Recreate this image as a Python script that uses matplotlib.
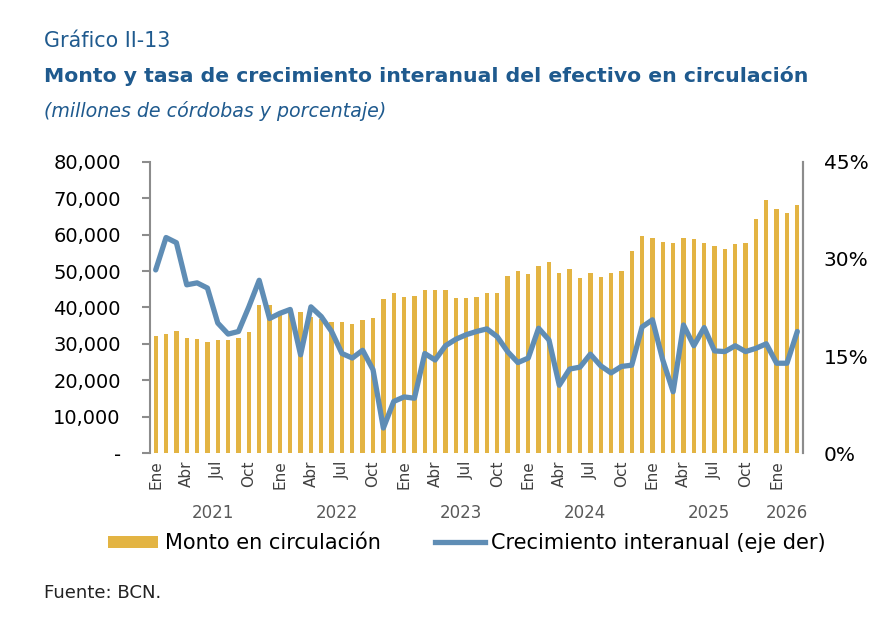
import matplotlib
matplotlib.use("Agg")
import matplotlib.pyplot as plt
import numpy as np
from matplotlib.patches import Patch
from matplotlib.lines import Line2D

months = ["Ene", "Feb", "Mar", "Abr", "May", "Jun", "Jul", "Ago", "Sep", "Oct", "Nov", "Dic"]
years = ["2021", "2022", "2023", "2024", "2025", "2026"]

# Monto en circulación (miles de millones -> millones de córdobas), Ene 2021 - Mar 2026
monto_k = [
    32.3, 32.6, 33.5, 31.7, 31.4, 30.4, 31.1, 31.1, 31.7, 33.3, 40.8, 40.8,
    38.5, 39.9, 38.7, 37.5, 36.8, 36.0, 36.0, 35.6, 36.6, 37.2, 42.3, 43.9,
    43.0, 43.2, 44.8, 44.8, 44.8, 42.7, 42.7, 43.0, 43.9, 44.1, 48.7, 50.0,
    49.1, 51.5, 52.4, 49.4, 50.5, 48.2, 49.4, 48.4, 49.4, 50.0, 55.5, 59.7,
    59.1, 58.0, 57.6, 59.1, 58.8, 57.6, 56.9, 56.0, 57.3, 57.6, 64.3, 69.5,
    67.0, 66.0, 68.0,
]
monto = [v * 1000 for v in monto_k]

# Crecimiento interanual (%)
crec = [
    28.3, 33.3, 32.5, 26.0, 26.3, 25.5, 20.1, 18.4, 18.8, 22.6, 26.7, 20.8,
    21.6, 22.2, 15.2, 22.6, 21.1, 18.8, 15.4, 14.7, 15.9, 12.9, 3.9, 8.0,
    8.7, 8.5, 15.4, 14.4, 16.6, 17.6, 18.3, 18.8, 19.2, 18.0, 15.7, 14.0,
    14.7, 19.3, 17.5, 10.5, 13.0, 13.3, 15.3, 13.5, 12.4, 13.4, 13.6, 19.5,
    20.6, 14.4, 9.5, 19.8, 16.6, 19.4, 15.8, 15.7, 16.6, 15.7, 16.2, 16.9,
    13.9, 13.9, 18.8,
]

bar_color = "#E3B443"
line_color = "#5F8DB5"
title_color = "#1F5A8E"
grey = "#8C8C8C"

W, H = 892, 624
fig = plt.figure(figsize=(W / 100, H / 100), dpi=100)
ax = fig.add_axes([150 / W, 1 - 453.3 / H, (802.7 - 150) / W, (453.3 - 161.7) / H])

n = len(monto)
x = np.arange(n)
ax.bar(x, monto, width=0.42, color=bar_color, zorder=2)
ax.set_xlim(-0.55, n - 0.48)
ax.set_ylim(0, 80000)
ax.set_yticks(np.arange(0, 80001, 10000))
ax.set_yticklabels(["-"] + [f"{v:,}" for v in range(10000, 80001, 10000)], fontsize=14,
                   family="DejaVu Sans")
ax.tick_params(axis="y", length=6, width=1.5, color=grey, pad=15)

for s in ["top", "bottom"]:
    ax.spines[s].set_visible(False)
for s in ["left", "right"]:
    ax.spines[s].set_color(grey)
    ax.spines[s].set_linewidth(1.5)

# Month ticks
tick_pos = [i for i in range(n) if i % 3 == 0]
ax.set_xticks(tick_pos)
ax.set_xticklabels([months[i % 12] for i in tick_pos], rotation=90, fontsize=11,
                   color="#404040", family="DejaVu Sans Condensed")
ax.tick_params(axis="x", length=0, pad=5)

# Year labels
for k, yr in enumerate(years):
    first = k * 12
    last = min(first + 11, n - 1)
    ax.text((first + last) / 2, -0.205, yr, transform=ax.get_xaxis_transform(),
            ha="center", va="center", fontsize=12, color="#595959",
            family="DejaVu Sans Condensed")

ax2 = ax.twinx()
ax2.plot(x, crec, color=line_color, linewidth=3.8, solid_joinstyle="round",
         solid_capstyle="round", zorder=3)
ax2.set_ylim(0, 45)
ax2.set_yticks([0, 15, 30, 45])
ax2.set_yticklabels(["0%", "15%", "30%", "45%"], fontsize=14.5, family="DejaVu Sans")
ax2.tick_params(axis="y", length=0, pad=15)
for s in ["top", "bottom", "left"]:
    ax2.spines[s].set_visible(False)
ax2.spines["right"].set_color(grey)
ax2.spines["right"].set_linewidth(1.5)

# Titles, sized to match the reference widths
renderer = fig.canvas.get_renderer()


def fit_text(xp, yp, s, target_w, **kw):
    t = fig.text(xp / W, 1 - yp / H, s, ha="left", va="center", **kw)
    w = t.get_window_extent(renderer).width
    t.set_fontsize(t.get_fontsize() * target_w / w)
    return t


fit_text(44, 41, "Gráfico II-13", 126, fontsize=13, color=title_color, family="DejaVu Sans")
fit_text(44, 76, "Monto y tasa de crecimiento interanual del efectivo en circulación", 764,
         fontsize=14, color=title_color, family="DejaVu Sans", fontweight="bold")
fit_text(44, 111, "(millones de córdobas y porcentaje)", 342, fontsize=13,
         color=title_color, family="DejaVu Sans", style="italic")
fit_text(44, 593, "Fuente: BCN.", 118, fontsize=11, color="#222222", family="DejaVu Sans")

# Legend
handles = [Patch(facecolor=bar_color, edgecolor="none"),
           Line2D([0], [0], color=line_color, linewidth=3.8)]
fig.legend(handles, ["Monto en circulación", "Crecimiento interanual (eje der)"],
           loc="center", bbox_to_anchor=(467 / W, 1 - 543 / H), ncol=2, frameon=False,
           prop={"family": "DejaVu Sans Condensed", "size": 15}, handlelength=2.4,
           handleheight=0.5, columnspacing=2.6, handletextpad=0.3)

fig.savefig("out.png", dpi=100)
